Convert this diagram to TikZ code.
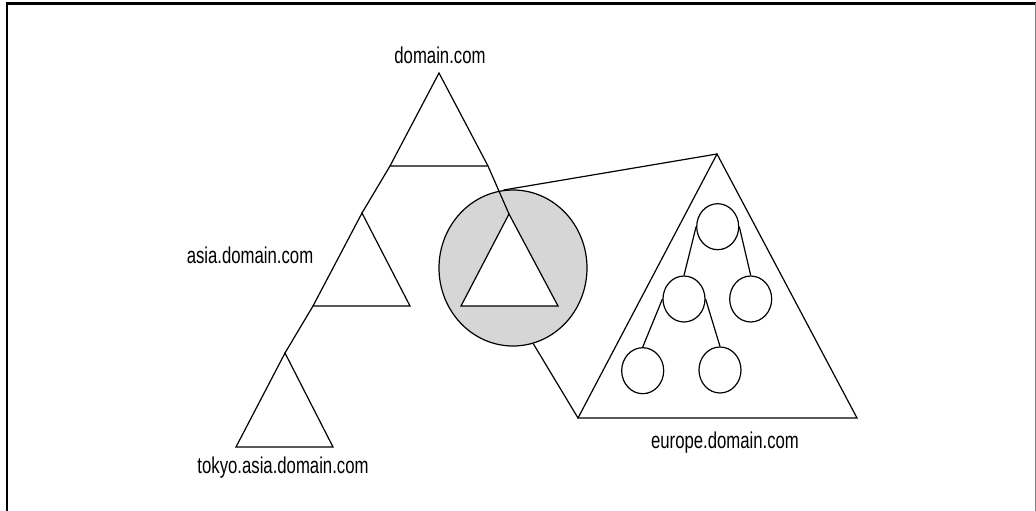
\documentclass[tikz,border=0pt]{standalone}
\usepackage{fontspec}
\setmainfont[FakeStretch=0.73]{Liberation Sans}
\usetikzlibrary{shapes.geometric}
\definecolor{circgray}{RGB}{214,214,214}
\begin{document}
\begin{tikzpicture}[x=1bp,y=-1bp, line width=1.2bp, line join=miter,
  lbl/.style={font=\fontsize{23}{26}\selectfont, inner sep=0pt, anchor=base},
  smallnode/.style={draw, ellipse, minimum width=42bp, minimum height=46bp, inner sep=0pt, fill=white},
  bigcirc/.style={draw, ellipse, minimum width=148bp, minimum height=156bp, inner sep=0pt, fill=circgray}]
\useasboundingbox (0,0) rectangle (1036,511);
% frame
\draw[line width=2.5bp] (7,511) -- (7,3.5) -- (1036,3.5);
\draw[line width=1bp, gray] (1035,3.5) -- (1035,511);
% coordinates
\coordinate (dA) at (439,73);
\coordinate (dL) at (390,166);
\coordinate (dR) at (488,166);
\coordinate (aA) at (362,213);
\coordinate (aL) at (313,306);
\coordinate (aR) at (410,306);
\coordinate (tA) at (285,353);
\coordinate (tL) at (236,447);
\coordinate (tR) at (333,447);
\coordinate (iA) at (509,214);
\coordinate (iL) at (461,306);
\coordinate (iR) at (558,306);
\coordinate (eA) at (717,154);
\coordinate (eL) at (578,418);
\coordinate (eR) at (857,418);
% zoom circle
\node[bigcirc] (circ) at (513,268) {};
\draw[fill=white] (iA) -- (iL) -- (iR) -- cycle;
% main trees
\draw (dA) -- (dL) -- (dR) -- cycle;
\draw (dL) -- (aA);
\draw (aA) -- (aL) -- (aR) -- cycle;
\draw (aL) -- (tA);
\draw (tA) -- (tL) -- (tR) -- cycle;
\draw (dR) -- (iA);
% magnification lines
\draw (circ.97) -- (eA);
\draw (circ.-75) -- (eL);
% europe domain
\draw (eA) -- (eL) -- (eR) -- cycle;
\node[smallnode] (e1) at (717.7,226.7) {};
\node[smallnode] (e2) at (684,299) {};
\node[smallnode] (e3) at (750.7,299) {};
\node[smallnode] (e4) at (642.7,370.7) {};
\node[smallnode] (e5) at (720,370) {};
\draw (e1.west) -- (e2.north);
\draw (e1.east) -- (e3.north);
\draw (e2.west) -- (e4.north);
\draw (e2.east) -- (e5.north);
% labels
\node[lbl] (ldom) at (440,63.3) {domain.com};
\node[lbl] (lasia) at (250,264) {asia.domain.com};
\node[lbl] (ltok) at (283,473.5) {tokyo.asia.domain.com};
\node[lbl] (leur) at (725,448) {europe.domain.com};
\end{tikzpicture}
\end{document}
